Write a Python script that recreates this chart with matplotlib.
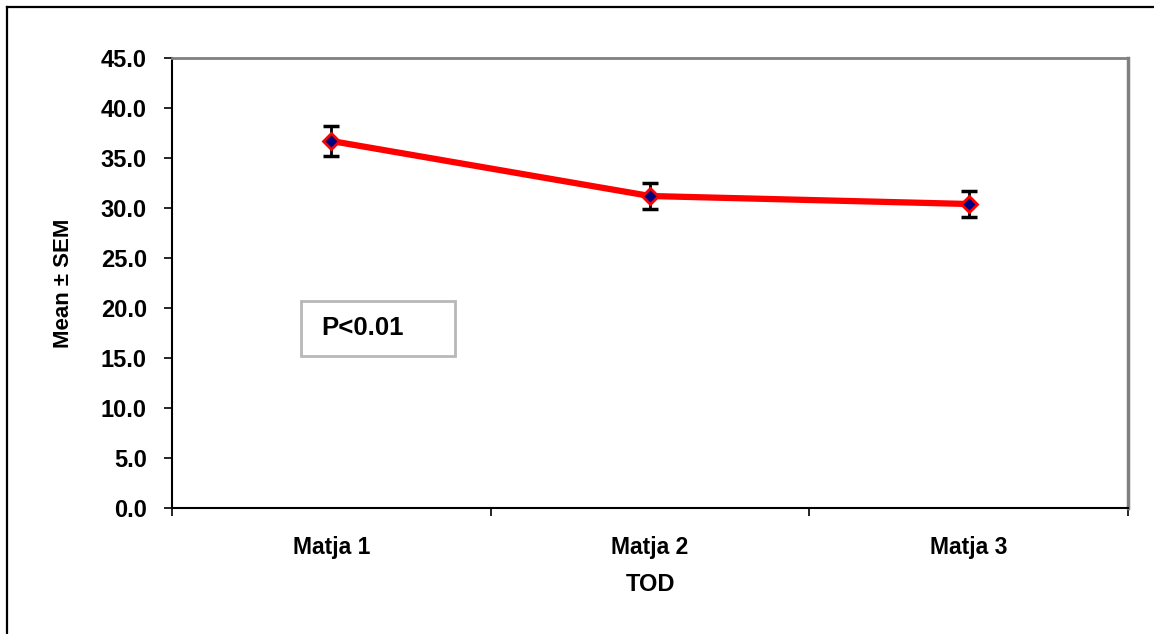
import matplotlib.pyplot as plt
from matplotlib.lines import Line2D

# data
groups = ["Matja 1", "Matja 2", "Matja 3"]
means = [36.7, 31.2, 30.4]
sem = [1.5, 1.3, 1.3]
yticks = [0, 5, 10, 15, 20, 25, 30, 35, 40, 45]

plt.rcParams['font.family'] = ['Liberation Sans', 'DejaVu Sans']
plt.rcParams['font.weight'] = 'bold'

W, H = 1154, 634
fig = plt.figure(figsize=(W / 100, H / 100), dpi=100)
# outer chart frame (only top and left edges visible in the crop)
fig.lines.append(Line2D([7 / W, 1.0], [1 - 7 / H, 1 - 7 / H], transform=fig.transFigure,
                        color='black', linewidth=1.6))
fig.lines.append(Line2D([7 / W, 7 / W], [0, 1 - 7 / H], transform=fig.transFigure,
                        color='black', linewidth=1.6))

ax = fig.add_axes([172 / W, 1 - 508 / H, 956 / W, 450 / H])

x = list(range(len(groups)))
ax.plot(x, means, color='red', linewidth=4.5, zorder=2)
ax.errorbar(x, means, yerr=sem, fmt='none', ecolor='black', elinewidth=2,
            capsize=6, capthick=2.5, zorder=3)
ax.plot(x, means, linestyle='none', marker='D', markersize=8,
        markerfacecolor='#000080', markeredgecolor='red', markeredgewidth=2, zorder=4)

ax.set_xlim(-0.5, 2.5)
ax.set_ylim(0, 45)
ax.set_yticks(yticks)
ax.set_yticklabels([f"{v:.1f}" for v in yticks], fontsize=17, fontweight='bold')
ax.set_xticks([-0.5, 0.5, 1.5, 2.5])
ax.set_xticklabels([])
ax.set_xticks(x, minor=True)
ax.set_xticklabels(groups, minor=True, fontsize=16.5, fontweight='bold')
ax.tick_params(axis='x', which='minor', length=0, pad=20)
ax.tick_params(axis='x', which='major', direction='out', length=6, width=1.2)
ax.tick_params(axis='y', direction='out', length=6, width=1.2, pad=12)

for s in ['left', 'bottom']:
    ax.spines[s].set_linewidth(1.5)
    ax.spines[s].set_color('black')
ax.spines['top'].set_linewidth(2)
ax.spines['top'].set_color('#808080')
ax.spines['right'].set_linewidth(2.5)
ax.spines['right'].set_color('#808080')

ax.set_ylabel("Mean ± SEM", fontsize=16, fontweight='bold', labelpad=19)
ax.set_xlabel("TOD", fontsize=17, fontweight='bold', labelpad=10)

# P value box
ax.add_patch(plt.Rectangle((0.135, 0.338), 0.161, 0.122, transform=ax.transAxes,
                           facecolor='white', edgecolor='#b8b8b8', linewidth=2, zorder=5))
ax.text(0.156, 0.399, "P<0.01", transform=ax.transAxes, fontsize=18.5, fontweight='bold',
        va='center', ha='left', zorder=6)

fig.savefig("out.png", dpi=100)
